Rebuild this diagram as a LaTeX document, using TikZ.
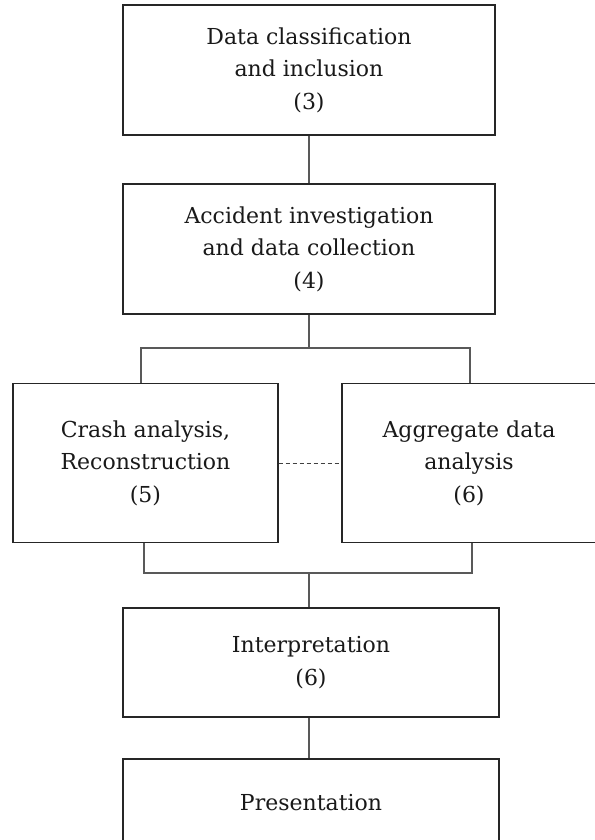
\documentclass[tikz,border=0pt]{standalone}
\usepackage{fontspec}
\setmainfont{DejaVu Serif}
\begin{document}
\begin{tikzpicture}[x=1pt,y=-1pt,
  stagebox/.style={draw=black!85, line width=1.2pt, align=center, inner sep=0pt,
    font=\fontsize{22}{32.5}\selectfont, text=black!90},
  link/.style={draw=black!65, line width=1.1pt},
  peer/.style={draw=black!75, line width=0.9pt, dash pattern=on 4pt off 3pt}]
\useasboundingbox (0,0) rectangle (594,840);
\fill[white] (0,0) rectangle (594,840);

\node[stagebox, minimum width=372pt, minimum height=130pt] (b1) at (309,70)
  {Data classification\\and inclusion\\(3)};
\node[stagebox, minimum width=372pt, minimum height=130pt] (b2) at (309,249)
  {Accident investigation\\and data collection\\(4)};
\node[stagebox, minimum width=265pt, minimum height=159pt] (b3) at (145.5,463)
  {Crash analysis,\\Reconstruction\\(5)};
\node[stagebox, minimum width=254pt, minimum height=159pt] (b4) at (469,463)
  {Aggregate data\\analysis\\(6)};
\node[stagebox, minimum width=376pt, minimum height=109pt] (b5) at (311,662.5)
  {Interpretation\\(6)};
\node[stagebox, minimum width=376pt, minimum height=88pt] (b6) at (311,803)
  {Presentation};

\coordinate (fork) at (309,348);
\coordinate (join) at (309,573);

\draw[link] (b1.south) -- (b2.north);
\draw[link] (b2.south) -- (fork);
\draw[link] ([xshift=-4.5pt]b3.north) |- (fork) -| ([xshift=1pt]b4.north);
\draw[link] ([xshift=-1.5pt]b3.south) |- (join) -| ([xshift=3pt]b4.south);
\draw[link] (join) -- (join |- b5.north);
\draw[link] ([xshift=-2pt]b5.south) -- ([xshift=-2pt]b6.north);
\draw[peer] (b3.east) -- (b4.west);
\end{tikzpicture}
\end{document}
